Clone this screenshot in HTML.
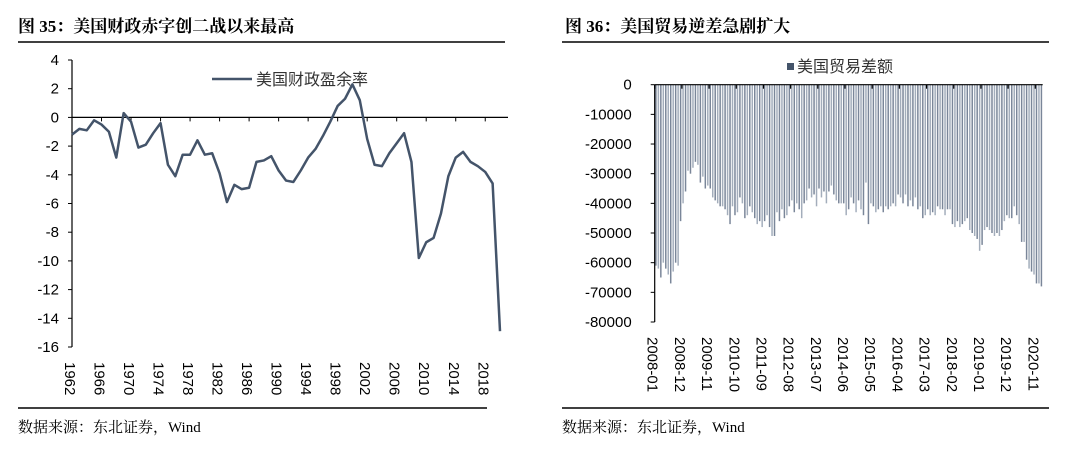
<!DOCTYPE html>
<html><head><meta charset="utf-8"><style>
html,body{margin:0;padding:0;background:#fff;}
svg{display:block;}
text{font-family:"Liberation Sans","Noto Sans CJK SC",sans-serif;}
.t{font-family:"Liberation Serif","Noto Serif CJK SC",serif;font-weight:bold;font-size:17px;fill:#000;}
.s{font-family:"Liberation Serif","Noto Serif CJK SC",serif;font-size:15px;fill:#000;}
.tk{font-size:15px;fill:#000;}
</style></head><body>
<svg id="svg" width="1080" height="453" viewBox="0 0 1080 453" xmlns="http://www.w3.org/2000/svg">
<text class="t" x="18" y="32">图 35：美国财政赤字创二战以来最高</text>
<line x1="18" y1="42" x2="505" y2="42" stroke="#000" stroke-width="1.5"/>
<line x1="18" y1="408" x2="487" y2="408" stroke="#000" stroke-width="1.5"/>
<text class="s" x="18" y="432">数据来源：东北证券，Wind</text>
<text class="t" x="565" y="32">图 36：美国贸易逆差急剧扩大</text>
<line x1="562" y1="42" x2="1049" y2="42" stroke="#000" stroke-width="1.5"/>
<line x1="562" y1="408" x2="1049" y2="408" stroke="#000" stroke-width="1.5"/>
<text class="s" x="562" y="432">数据来源：东北证券，Wind</text>
<g id="left"></g>
<g id="right"></g>
</svg>
<script>
const years = [1962,1963,1964,1965,1966,1967,1968,1969,1970,1971,1972,1973,1974,1975,1976,1977,1978,1979,1980,1981,1982,1983,1984,1985,1986,1987,1988,1989,1990,1991,1992,1993,1994,1995,1996,1997,1998,1999,2000,2001,2002,2003,2004,2005,2006,2007,2008,2009,2010,2011,2012,2013,2014,2015,2016,2017,2018,2019,2020];
const fiscalBalance = [-1.2,-0.8,-0.9,-0.2,-0.5,-1.0,-2.8,0.3,-0.3,-2.1,-1.9,-1.1,-0.4,-3.3,-4.1,-2.6,-2.6,-1.6,-2.6,-2.5,-3.9,-5.9,-4.7,-5.0,-4.9,-3.1,-3.0,-2.7,-3.7,-4.4,-4.5,-3.7,-2.8,-2.2,-1.3,-0.3,0.8,1.3,2.3,1.2,-1.5,-3.3,-3.4,-2.5,-1.8,-1.1,-3.1,-9.8,-8.7,-8.4,-6.7,-4.1,-2.8,-2.4,-3.1,-3.4,-3.8,-4.6,-14.9];
const leftTicks = [4,2,0,-2,-4,-6,-8,-10,-12,-14,-16];

const tradeMonths0 = "2008-01";
const tradeLabels = ["2008-01","2008-12","2009-11","2010-10","2011-09","2012-08","2013-07","2014-06","2015-05","2016-04","2017-03","2018-02","2019-01","2019-12","2020-11"];
const tradeBalance = [
-61,-62,-65,-60,-62,-64,-67,-63,-60,-61,-46,-40,
-36,-29,-30,-28,-26,-27,-33,-31,-35,-34,-35,-38,
-39,-40,-41,-41,-42,-44,-47,-41,-44,-43,-38,-40,
-45,-44,-41,-43,-45,-47,-46,-48,-46,-44,-48,-51,
-51,-43,-46,-42,-45,-44,-41,-39,-43,-40,-42,-45,
-40,-39,-35,-38,-37,-41,-35,-38,-36,-40,-36,-34,
-37,-39,-40,-40,-40,-44,-42,-38,-40,-43,-39,-42,
-44,-33,-47,-40,-41,-43,-42,-41,-43,-41,-42,-41,
-40,-41,-37,-38,-40,-37,-41,-39,-41,-38,-42,-41,
-45,-44,-42,-44,-43,-44,-41,-42,-42,-44,-42,-42,
-47,-48,-46,-48,-47,-46,-45,-49,-50,-51,-52,-56,
-54,-49,-48,-49,-50,-51,-50,-51,-49,-46,-44,-45,
-45,-41,-44,-47,-53,-53,-59,-62,-63,-64,-67,-67,
-68].map(v=>v*1000);
const rightTicks = [0,-10000,-20000,-30000,-40000,-50000,-60000,-70000,-80000];

const NS="http://www.w3.org/2000/svg";
function mk(tag, attrs, parent, txt){const e=document.createElementNS(NS,tag);for(const k in attrs)e.setAttribute(k,attrs[k]);if(txt!==undefined)e.textContent=txt;parent.appendChild(e);return e;}

// LEFT chart
const L=document.getElementById('left');
const lx0=72, lx1=500, yTop=60, yBot=347;
const lx=i=>lx0+(lx1-lx0)*i/(years.length-1);
const ly=v=>yTop+(4-v)*(yBot-yTop)/20;
let a=mk('line',{x1:lx0,y1:yTop,x2:lx0,y2:yBot,stroke:'#000','stroke-width':1.2},L);


a=mk('line',{x1:lx0,y1:ly(0),x2:508,y2:ly(0),stroke:'#000','stroke-width':1.2},L);


leftTicks.forEach(t=>{
  mk('line',{x1:lx0-4,y1:ly(t),x2:lx0,y2:ly(t),stroke:'#000'},L);
  const e=mk('text',{x:lx0-13,y:ly(t)+5,'text-anchor':'end',class:'tk'},L,String(t));
  
  
});
years.forEach((yv,i)=>{
  if(i%4===0){
    if(i>0) mk('line',{x1:lx(i),y1:ly(0),x2:lx(i),y2:ly(0)+4,stroke:'#000'},L);
    const x=lx(i)-3, y=362;
    const e=mk('text',{x:x,y:y,transform:`rotate(90 ${x} ${y})`,class:'tk','dominant-baseline':'middle'},L,String(yv));
    
    
  }
});
const line=mk('polyline',{points:fiscalBalance.map((v,i)=>lx(i)+','+ly(v)).join(' '),fill:'none',stroke:'#44546a','stroke-width':2.5,'stroke-linejoin':'round'},L);


let lg=mk('line',{x1:212,y1:79,x2:252,y2:79,stroke:'#44546a','stroke-width':2.5},L);


lg=mk('text',{x:256,y:85,'font-size':16,fill:'#333'},L,'美国财政盈余率');



// RIGHT chart
const R=document.getElementById('right');
const rx0=654.7, rx1=1042.7, ry0=84.7, ry1=322;
const n=tradeBalance.length, bw=(rx1-rx0)/n;
const ry=v=>ry0+(0-v)*(ry1-ry0)/80000;
tradeBalance.forEach((v,i)=>{
  const b=mk('rect',{x:rx0+i*bw+0.45,y:ry0,width:bw*0.6,height:ry(v)-ry0,fill:i%2?'#a3adbb':'#7a8699'},R);
  
  
});
a=mk('line',{x1:rx0,y1:ry0,x2:rx0,y2:ry1,stroke:'#000','stroke-width':1.2},R);


a=mk('line',{x1:rx0,y1:ry0,x2:rx1,y2:ry0,stroke:'#000','stroke-width':1.2},R);


rightTicks.forEach(t=>{
  mk('line',{x1:rx0-4,y1:ry(t),x2:rx0,y2:ry(t),stroke:'#000'},R);
  const e=mk('text',{x:rx0-23,y:ry(t)+5,'text-anchor':'end',class:'tk'},R,String(t));
  
  
});
tradeLabels.forEach((lab,k)=>{
  const i=k*11, x=rx0+i*bw;
  mk('line',{x1:x,y1:ry0,x2:x,y2:ry0+4,stroke:'#000','stroke-width':1.2},R);
  const tx=x-3, ty=337;
  const e=mk('text',{x:tx,y:ty,transform:`rotate(90 ${tx} ${ty})`,class:'tk','dominant-baseline':'middle'},R,lab);
  
  
});
lg=mk('rect',{x:787,y:63,width:7,height:7,fill:'#44546a'},R);


lg=mk('text',{x:797,y:72,'font-size':16,fill:'#333'},R,'美国贸易差额');


</script>
</body></html>
